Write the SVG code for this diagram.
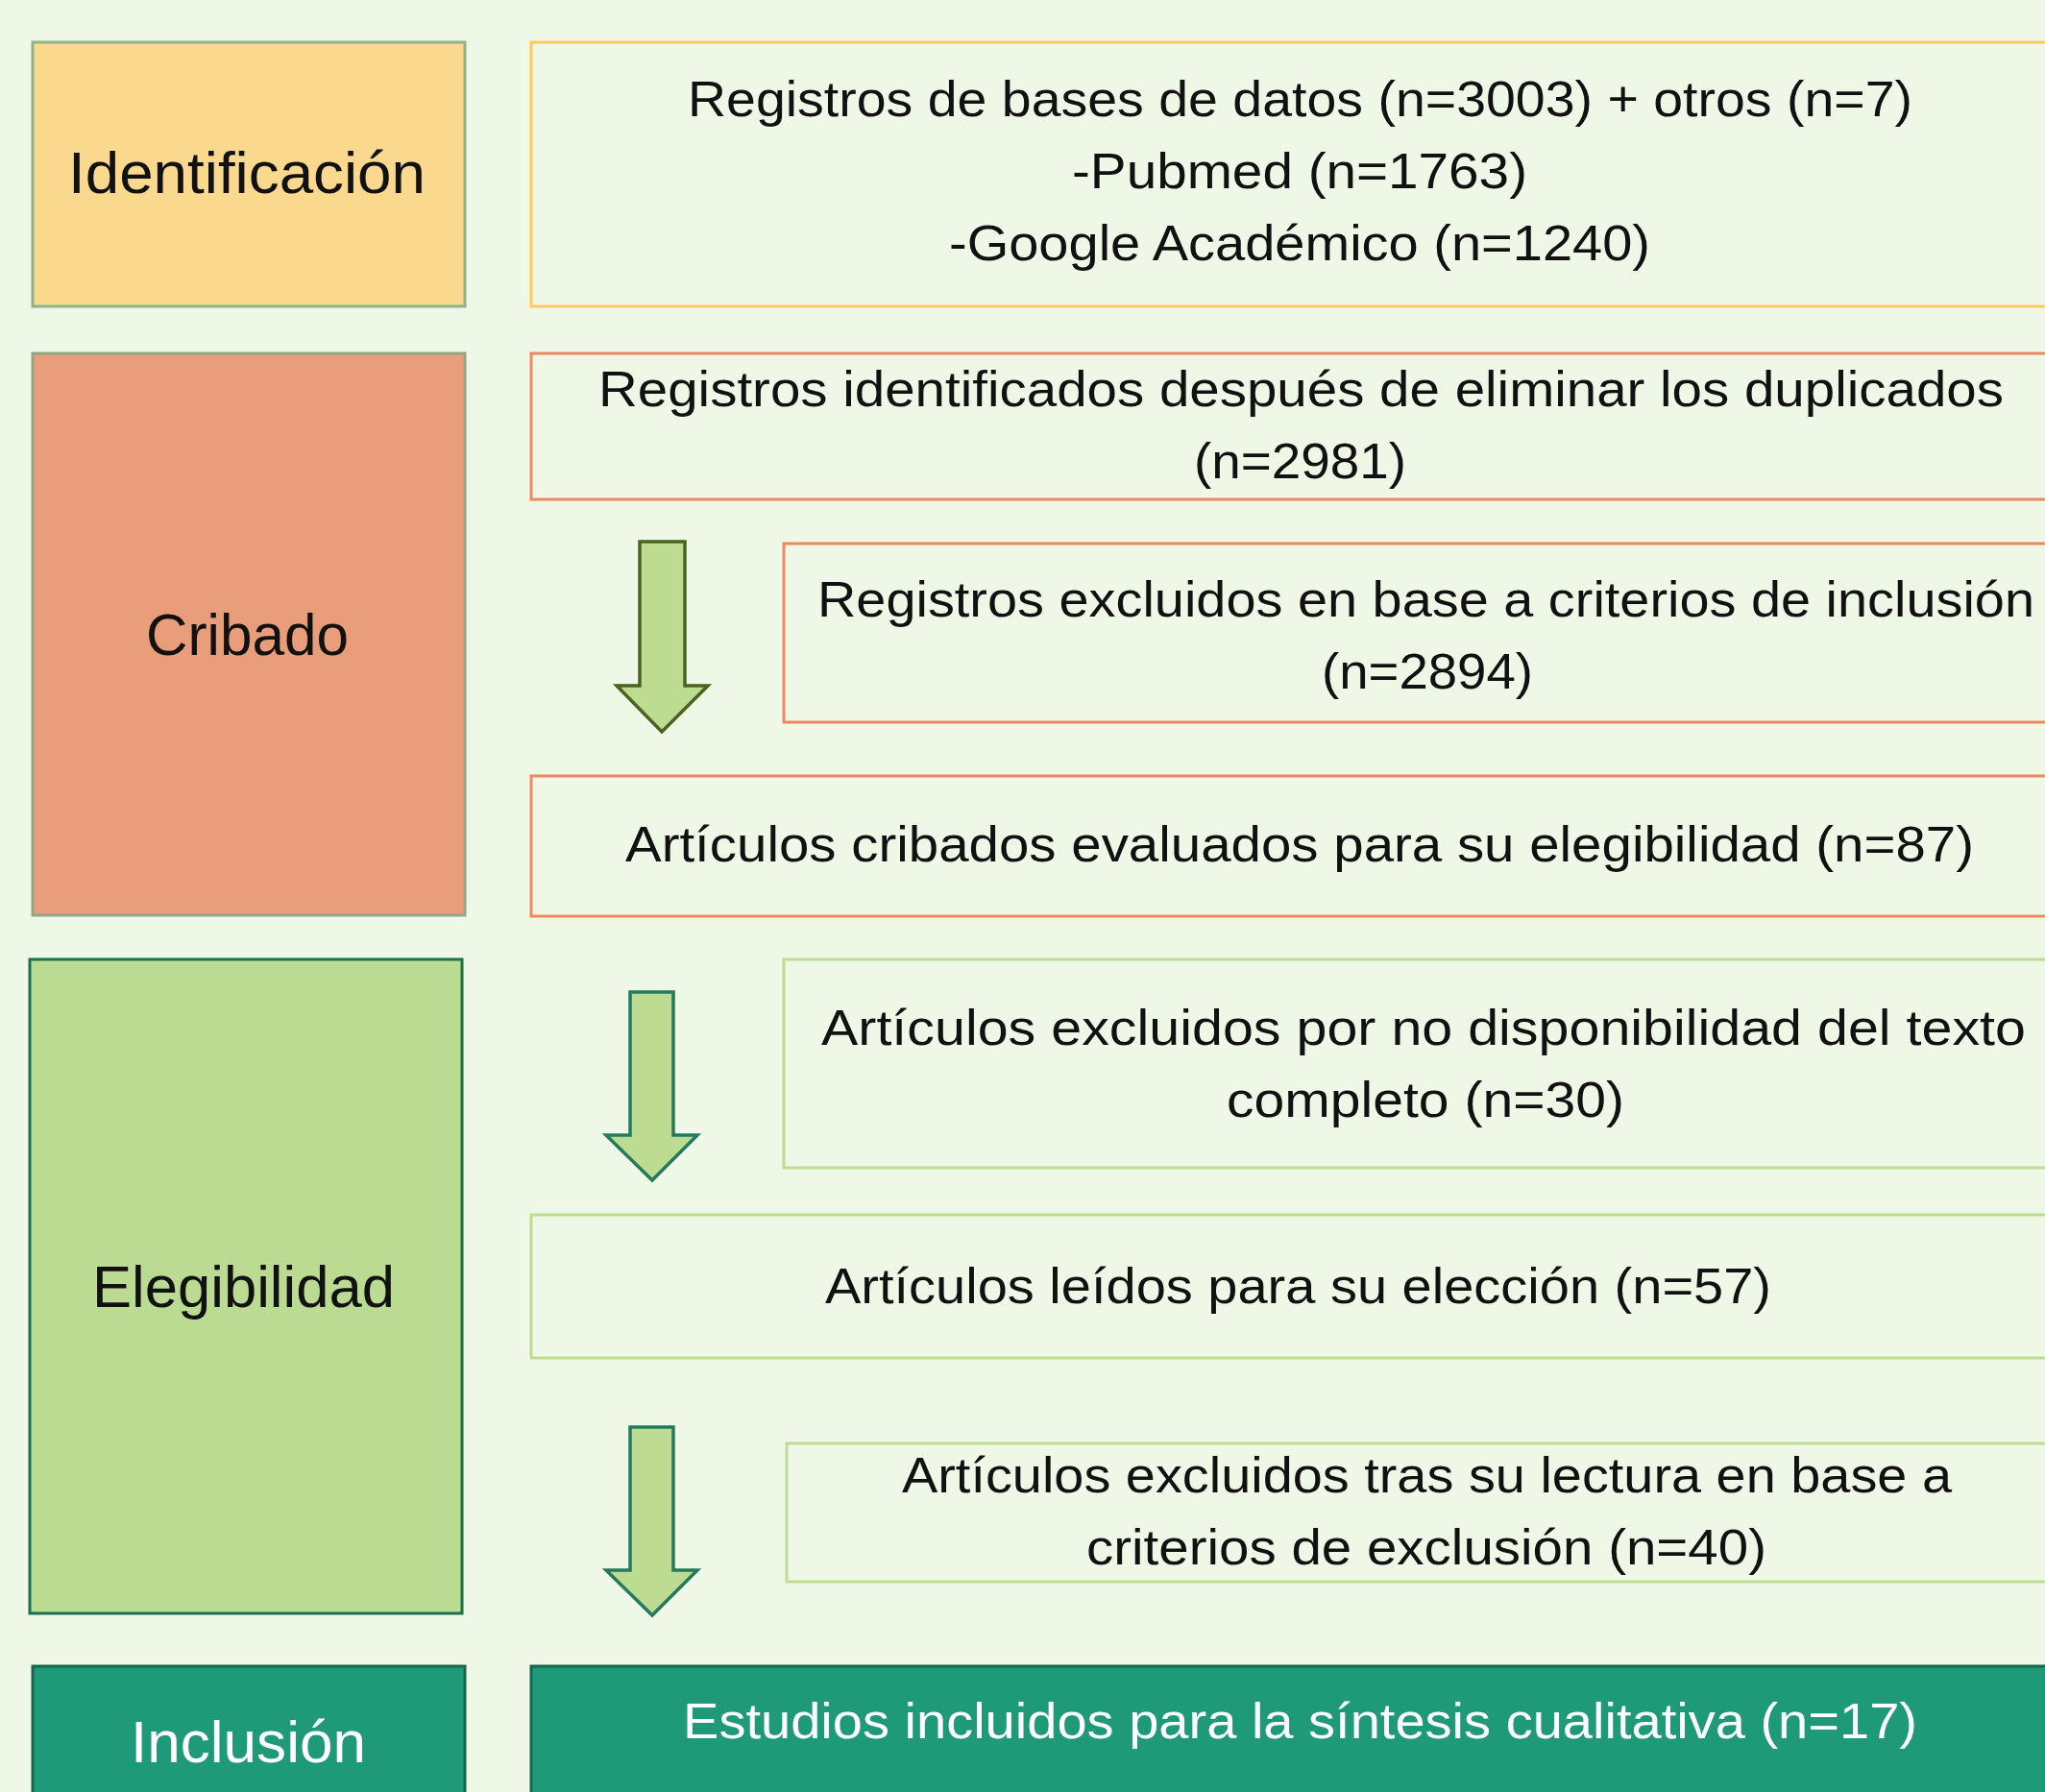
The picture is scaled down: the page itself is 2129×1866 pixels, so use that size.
<svg xmlns="http://www.w3.org/2000/svg" width="2129" height="1866" viewBox="0 0 2129 1866">
<style>
.t{font-family:"Liberation Sans",Arial,sans-serif;fill:#111;}
.lbl{font-size:62px;}
.txt{font-size:52px;}
.w{fill:#ffffff;}
.bx{fill:#eff7e6;stroke-width:3;}
.arrA{fill:#bddb91;stroke:#4a6320;stroke-width:3.5;stroke-linejoin:miter;}
.arrB{fill:#bddb91;stroke:#237a5c;stroke-width:3.5;stroke-linejoin:miter;}
</style>
<rect x="0" y="0" width="2129" height="1866" fill="#eff7e6"/>

<g id="phase-identificacion">
<rect x="34" y="44" width="450" height="275" fill="#fad88e" stroke="#90b48a" stroke-width="3"/>
<text class="t lbl" x="71" y="201" textLength="372" lengthAdjust="spacingAndGlyphs">Identificación</text>
</g>
<g id="phase-cribado">
<rect x="34" y="368" width="450" height="585" fill="#e99d7a" stroke="#8fa888" stroke-width="3"/>
<text class="t lbl" x="152" y="682" textLength="211" lengthAdjust="spacingAndGlyphs">Cribado</text>
</g>
<g id="phase-elegibilidad">
<rect x="31" y="999" width="450" height="681" fill="#bcdb92" stroke="#1a7050" stroke-width="3"/>
<text class="t lbl" x="96" y="1361" textLength="315" lengthAdjust="spacingAndGlyphs">Elegibilidad</text>
</g>
<g id="phase-inclusion">
<rect x="34" y="1735" width="450" height="160" fill="#1e9a78" stroke="#17664f" stroke-width="3"/>
<text class="t lbl w" x="136" y="1835" textLength="245" lengthAdjust="spacingAndGlyphs">Inclusión</text>
</g>

<g id="registros-bases">
<rect class="bx" x="553" y="44" width="1620" height="275" stroke="#fdc960"/>
<text class="t txt" x="716" y="121" textLength="1275" lengthAdjust="spacingAndGlyphs">Registros de bases de datos (n=3003) + otros (n=7)</text>
<text class="t txt" x="1116" y="196" textLength="474" lengthAdjust="spacingAndGlyphs">-Pubmed (n=1763)</text>
<text class="t txt" x="988" y="271" textLength="730" lengthAdjust="spacingAndGlyphs">-Google Académico (n=1240)</text>
</g>
<g id="registros-sin-duplicados">
<rect class="bx" x="553" y="368" width="1620" height="152" stroke="#ec8a5f"/>
<text class="t txt" x="623" y="423" textLength="1463" lengthAdjust="spacingAndGlyphs">Registros identificados después de eliminar los duplicados</text>
<text class="t txt" x="1243" y="498" textLength="221" lengthAdjust="spacingAndGlyphs">(n=2981)</text>
</g>
<g id="registros-excluidos">
<rect class="bx" x="816" y="566" width="1360" height="186" stroke="#ec8a5f"/>
<text class="t txt" x="851" y="642" textLength="1267" lengthAdjust="spacingAndGlyphs">Registros excluidos en base a criterios de inclusión</text>
<text class="t txt" x="1376" y="717" textLength="220" lengthAdjust="spacingAndGlyphs">(n=2894)</text>
</g>
<g id="articulos-cribados">
<rect class="bx" x="553" y="808" width="1620" height="146" stroke="#ec8a5f"/>
<text class="t txt" x="651" y="897" textLength="1404" lengthAdjust="spacingAndGlyphs">Artículos cribados evaluados para su elegibilidad (n=87)</text>
</g>
<g id="articulos-excluidos-texto">
<rect class="bx" x="816" y="999" width="1360" height="217" stroke="#bfdc95"/>
<text class="t txt" x="855" y="1088" textLength="1254" lengthAdjust="spacingAndGlyphs">Artículos excluidos por no disponibilidad del texto</text>
<text class="t txt" x="1277" y="1163" textLength="414" lengthAdjust="spacingAndGlyphs">completo (n=30)</text>
</g>
<g id="articulos-leidos">
<rect class="bx" x="553" y="1265" width="1620" height="149" stroke="#bfdc95"/>
<text class="t txt" x="859" y="1357" textLength="985" lengthAdjust="spacingAndGlyphs">Artículos leídos para su elección (n=57)</text>
</g>
<g id="articulos-excluidos-lectura">
<rect class="bx" x="819" y="1503" width="1360" height="144" stroke="#bfdc95"/>
<text class="t txt" x="939" y="1554" textLength="1093" lengthAdjust="spacingAndGlyphs">Artículos excluidos tras su lectura en base a</text>
<text class="t txt" x="1131" y="1629" textLength="708" lengthAdjust="spacingAndGlyphs">criterios de exclusión (n=40)</text>
</g>
<g id="estudios-incluidos">
<rect x="553" y="1735" width="1620" height="160" fill="#1e9a78" stroke="#17664f" stroke-width="3"/>
<text class="t txt w" x="711" y="1810" textLength="1285" lengthAdjust="spacingAndGlyphs">Estudios incluidos para la síntesis cualitativa (n=17)</text>
</g>

<g id="connectors">
<polygon class="arrA" points="666,564 713,564 713,714 737,714 689,762 642,714 666,714"/>
<polygon class="arrB" points="656,1033 701,1033 701,1182 726,1182 679,1229 631,1182 656,1182"/>
<polygon class="arrB" points="656,1486 701,1486 701,1635 726,1635 679,1682 631,1635 656,1635"/>
</g>
</svg>
